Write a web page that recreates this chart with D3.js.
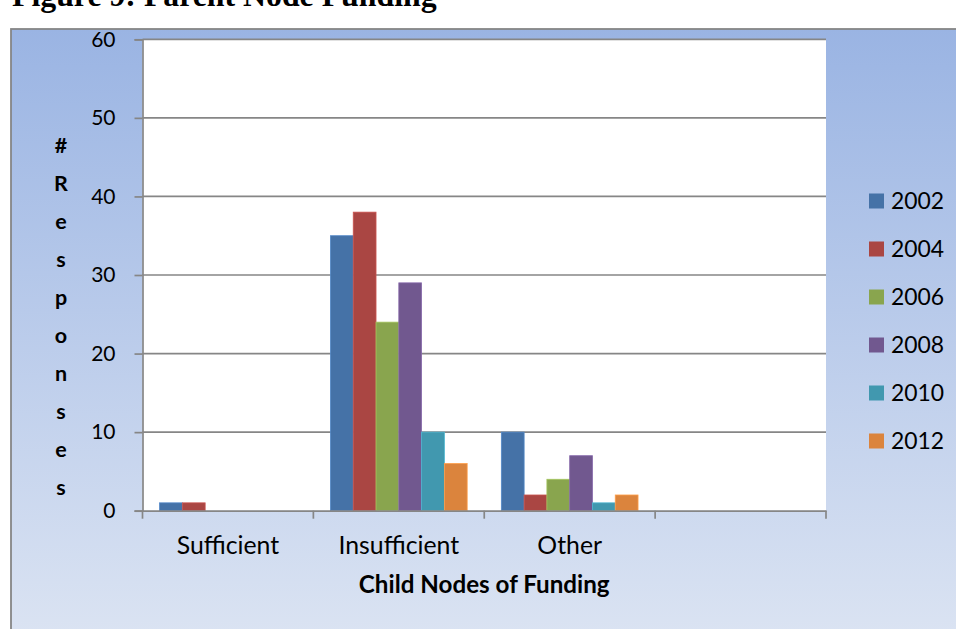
<!DOCTYPE html>
<html>
<head>
<meta charset="utf-8">
<script src="https://cdn.jsdelivr.net/npm/d3@7"></script>
<style>
  html, body { margin: 0; padding: 0; background: #ffffff; }
  svg { display: block; }
</style>
</head>
<body>
<svg id="chart" width="956" height="629"></svg>
<script>
// Survey responses about funding of child nodes, by survey year
const categories = ["Sufficient", "Insufficient", "Other", ""];
const years = ["2002", "2004", "2006", "2008", "2010", "2012"];
const colors = ["#4572A7", "#AA4643", "#89A54E", "#71588F", "#4198AF", "#DB843D"];
const values2002 = [1, 35, 10, null];
const values2004 = [1, 38, 2, null];
const values2006 = [0, 24, 4, null];
const values2008 = [0, 29, 7, null];
const values2010 = [0, 10, 1, null];
const values2012 = [0, 6, 2, null];
const yTicks = [0, 10, 20, 30, 40, 50, 60];
const seriesValues = [values2002, values2004, values2006, values2008, values2010, values2012];

const W = 956, H = 629;
const plot = { left: 142.5, right: 826, top: 39.3, bottom: 510.7 };
const svg = d3.select("#chart");
const font = "Lato, 'Open Sans', sans-serif";

// Chart-area background gradient
const defs = svg.append("defs");
const grad = defs.append("linearGradient")
  .attr("id", "bg").attr("x1", 0).attr("y1", 0).attr("x2", 0).attr("y2", 1);
grad.append("stop").attr("offset", "0%").attr("stop-color", "#9AB4E3");
grad.append("stop").attr("offset", "100%").attr("stop-color", "#DDE5F3");

// Caption above the chart
svg.append("text")
  .attr("x", 12).attr("y", 6)
  .attr("font-family", "'Liberation Serif', 'Times New Roman', serif")
  .attr("font-weight", "bold")
  .attr("font-size", 31.8)
  .attr("fill", "#000")
  .text("Figure 9: Parent Node Funding");

svg.append("rect")
  .attr("x", 11).attr("y", 29)
  .attr("width", W + 10).attr("height", H)
  .attr("fill", "url(#bg)")
  .attr("stroke", "#868686").attr("stroke-width", 1.8);

// Scales
const y = d3.scaleLinear().domain([0, 60]).range([plot.bottom, plot.top]);
const x0 = d3.scaleBand().domain(categories).range([plot.left, plot.right]).paddingInner(0).paddingOuter(0);
// Gap width of 150%: 6 bars + 1.5 bar widths of gap per category
const barW = x0.bandwidth() / 7.5;
const x1 = d3.scaleBand().domain(years).range([0.75 * barW, 6.75 * barW]).padding(0);

// Plot area
svg.append("rect")
  .attr("x", plot.left).attr("y", plot.top)
  .attr("width", plot.right - plot.left).attr("height", plot.bottom - plot.top)
  .attr("fill", "#ffffff");

// Horizontal gridlines
svg.append("g").selectAll("line").data(yTicks.filter(d => d > 0)).join("line")
  .attr("x1", plot.left).attr("x2", plot.right)
  .attr("y1", d => y(d)).attr("y2", d => y(d))
  .attr("stroke", "#868686").attr("stroke-width", 1.7);

// Bars
const groups = svg.append("g").selectAll("g").data(years).join("g")
  .attr("fill", (d, i) => colors[i]);
groups.each(function(yr, si) {
  d3.select(this).selectAll("rect")
    .data(categories.map((c, ci) => ({ c, v: seriesValues[si][ci] })).filter(d => d.v))
    .join("rect")
    .attr("x", d => x0(d.c) + x1(yr))
    .attr("y", d => y(d.v))
    .attr("width", x1.bandwidth())
    .attr("height", d => y(0) - y(d.v))
    .attr("stroke", d3.color(colors[si]).brighter(0.5))
    .attr("stroke-width", 0.8);
});

// Y axis
const yAxis = d3.axisLeft(y).tickValues(yTicks).tickSize(8).tickPadding(19);
const gy = svg.append("g").attr("transform", `translate(${plot.left},0)`).call(yAxis);
gy.select(".domain").attr("stroke", "#868686").attr("stroke-width", 1.7);
gy.selectAll(".tick line").attr("stroke", "#868686").attr("stroke-width", 1.7);
gy.selectAll(".tick text")
  .attr("font-family", font).attr("font-size", 21).attr("fill", "#000");

// X axis: ticks at category boundaries
const xAxis = d3.axisBottom(x0).tickSize(0).tickPadding(0).tickFormat(d => d);
const gx = svg.append("g").attr("transform", `translate(0,${plot.bottom})`).call(xAxis);
gx.select(".domain").attr("stroke", "#868686").attr("stroke-width", 1.7);
gx.selectAll(".tick text")
  .attr("font-family", font).attr("font-size", 24.8).attr("fill", "#000")
  .attr("dy", 0).attr("y", 43);
const boundaries = categories.map(c => x0(c)).concat([plot.right]);
gx.selectAll(".boundary").data(boundaries).join("line")
  .attr("class", "boundary")
  .attr("x1", d => d).attr("x2", d => d)
  .attr("y1", 0).attr("y2", 8)
  .attr("stroke", "#868686").attr("stroke-width", 1.7);

// Axis titles
svg.append("text")
  .attr("x", (plot.left + plot.right) / 2).attr("y", 593)
  .attr("text-anchor", "middle")
  .attr("font-family", font).attr("font-weight", "bold").attr("font-size", 24.2)
  .attr("fill", "#000")
  .text("Child Nodes of Funding");

const yTitle = "#Responses".split("");
svg.append("text")
  .attr("text-anchor", "middle")
  .attr("font-family", font).attr("font-weight", "bold").attr("font-size", 21.5)
  .attr("fill", "#000")
  .selectAll("tspan").data(yTitle).join("tspan")
  .attr("x", 61)
  .attr("y", (d, i) => 153 + i * 38)
  .text(d => d);

// Legend
const legend = svg.append("g").selectAll("g").data(years).join("g")
  .attr("transform", (d, i) => `translate(869,${201 + i * 48})`);
legend.append("rect")
  .attr("x", 0).attr("y", -7.5).attr("width", 15).attr("height", 15)
  .attr("fill", (d, i) => colors[i]);
legend.append("text")
  .attr("x", 22).attr("y", 8)
  .attr("font-family", font).attr("font-size", 22.9).attr("fill", "#000")
  .text(d => d);
</script>
</body>
</html>
